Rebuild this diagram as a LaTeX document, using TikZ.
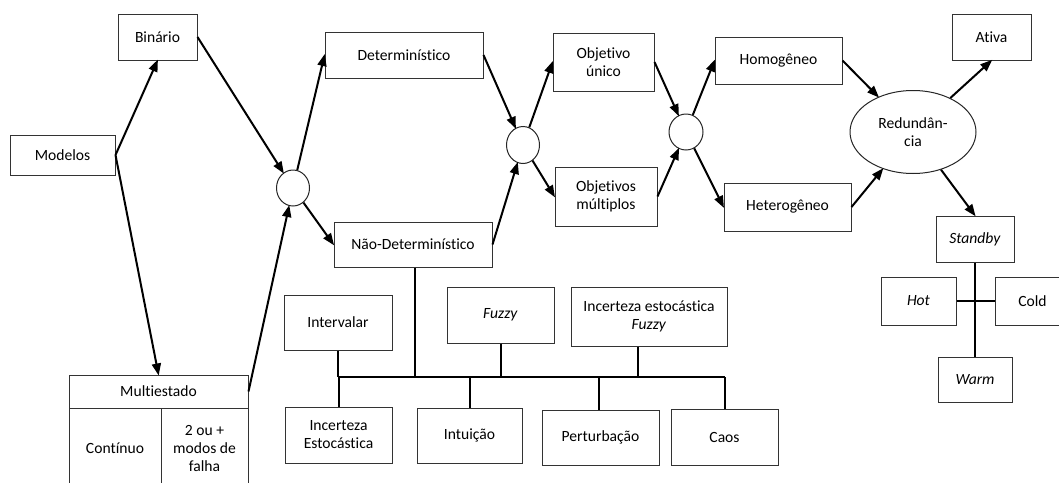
\documentclass[tikz,border=0pt]{standalone}
\usepackage{fontspec}
\setmainfont{Carlito}[Ligatures=NoCommon]
\usetikzlibrary{arrows.meta,shapes.geometric}
\begin{document}
\begin{tikzpicture}[x=1pt,y=-1pt,
  font=\fontsize{15.6}{18}\selectfont,
  box/.style={draw=black!80,line width=1pt,rectangle,inner sep=0pt,align=center,fill=white},
  oval/.style={draw=black!85,line width=1pt,ellipse,inner sep=0pt,align=center,fill=white},
  arr/.style={line width=2pt,-{Triangle[length=12pt,width=9pt]},shorten >=-1pt},
  tree/.style={line width=2pt}]
\useasboundingbox (0,0) rectangle (1059,482);
\clip (0,0) rectangle (1059,482);
% nodes
\node[box,minimum width=79,minimum height=46] (bin) at (157.5,37) {Binário};
\node[box,minimum width=105,minimum height=40] (mod) at (62.5,155) {Modelos};
\node[oval,minimum width=33,minimum height=36] (c1) at (293,188) {};
\node[box,minimum width=158,minimum height=46] (det) at (404,55) {Determinístico};
\node[box,minimum width=158,minimum height=45] (ndet) at (413,244.5) {Não-Determinístico};
\node[oval,minimum width=33,minimum height=37] (c2) at (523,145) {};
\node[box,minimum width=101,minimum height=58] (obu) at (603.5,62) {Objetivo\\único};
\node[box,minimum width=102,minimum height=59] (obm) at (606,196.5) {Objetivos\\múltiplos};
\node[oval,minimum width=34,minimum height=36] (c3) at (686,132) {};
\node[box,minimum width=127,minimum height=47] (hom) at (778.5,60.5) {Homogêneo};
\node[box,minimum width=127,minimum height=48] (het) at (787.5,207) {Heterogêneo};
\node[oval,minimum width=126,minimum height=83] (red) at (913,132) {Redundân-\\cia};
\node[box,minimum width=79,minimum height=46] (ati) at (991.5,37) {Ativa};
\node[box,minimum width=78,minimum height=46] (stb) at (975,239) {\textit{Standby}};
\node[box,minimum width=75,minimum height=48] (hot) at (918.5,301) {\textit{Hot}};
\node[box,minimum width=75,minimum height=48] (cold) at (1032.5,301) {Cold};
\node[box,minimum width=74,minimum height=45] (warm) at (975,379.5) {\textit{Warm}};
% multiestado
\node[box,minimum width=179,minimum height=33] (mult) at (158.5,391.5) {Multiestado};
\node[box,minimum width=92,minimum height=80] (cont) at (115,448) {Contínuo};
\node[box,minimum width=87,minimum height=80] (modf) at (204.5,448) {2 ou +\\modos de\\falha};
% non-deterministic subtypes
\node[box,minimum width=108,minimum height=55] (intv) at (338,322.5) {Intervalar};
\node[box,minimum width=107,minimum height=56] (fuz) at (500.5,315) {\textit{Fuzzy}};
\node[box,minimum width=156,minimum height=59] (ief) at (649,316.5) {Incerteza estocástica\\\textit{Fuzzy}};
\node[box,minimum width=107,minimum height=56] (ies) at (338.5,435) {Incerteza\\Estocástica};
\node[box,minimum width=105,minimum height=55] (intu) at (469.5,435.5) {Intuição};
\node[box,minimum width=117,minimum height=55] (pert) at (600.5,437.5) {Perturbação};
\node[box,minimum width=107,minimum height=56] (caos) at (724.5,437.5) {Caos};
% arrows
\draw[arr] (mod.east) -- (bin.south);
\draw[arr] (mod.east) -- (mult.north);
\draw[arr] (bin.east) -- (c1);
\draw[arr] (mult.east) -- (c1);
\draw[arr] (c1) -- (det.west);
\draw[arr] (c1) -- (ndet.west);
\draw[arr] (det.east) -- (c2);
\draw[arr] (ndet.east) -- (c2);
\draw[arr] (c2) -- (obu.west);
\draw[arr] (c2) -- (obm.west);
\draw[arr] (obu.east) -- (c3);
\draw[arr] (obm.east) -- (c3);
\draw[arr] (c3) -- (hom.west);
\draw[arr] (c3) -- (het.west);
\draw[arr] (hom.east) -- (red);
\draw[arr] (het.east) -- (red);
\draw[arr] (red) -- (ati.south);
\draw[arr] (red) -- (stb.north);
% tree connectors
\coordinate (busL) at (338,377);
\coordinate (busR) at (724.5,377);
\draw[tree] (busL) -- (busR);
\draw[tree] ([xshift=2pt]ndet.south) -- ([xshift=2pt]ndet.south |- busL);
\draw[tree] (intv.south) -- (intv.south |- busL);
\draw[tree] (fuz.south) -- (fuz.south |- busL);
\draw[tree] ([xshift=-11pt]ief.south) -- ([xshift=-11pt]ief.south |- busL);
\draw[tree] (ies.north) -- (ies.north |- busL);
\draw[tree] (intu.north) -- (intu.north |- busL);
\draw[tree] ([xshift=-2pt]pert.north) -- ([xshift=-2pt]pert.north |- busL);
\draw[tree] (caos.north) -- (caos.north |- busL);
\draw[tree] (stb.south) -- (warm.north);
\draw[tree] (hot.east) -- (cold.west);
\end{tikzpicture}
\end{document}
